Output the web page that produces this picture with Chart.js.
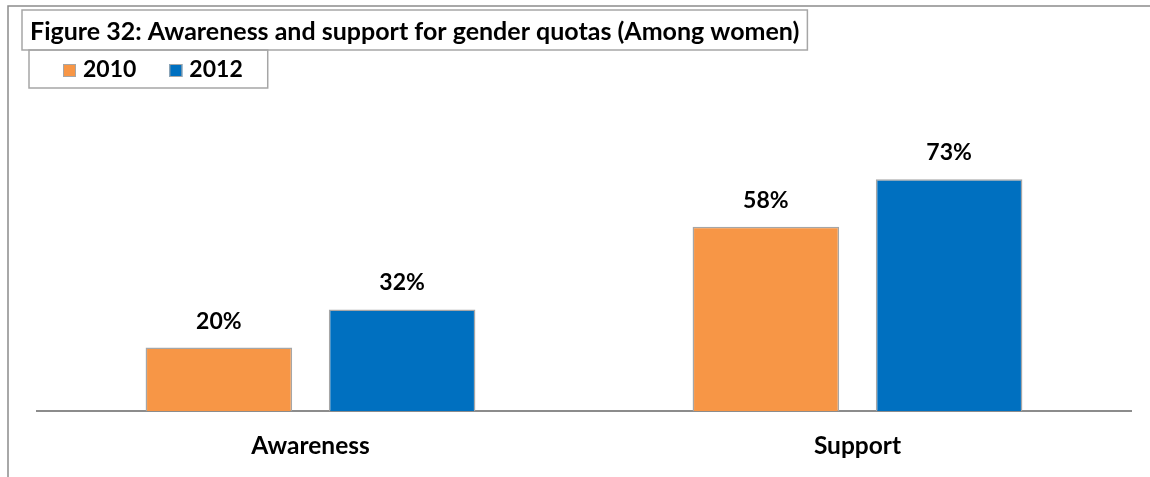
<!DOCTYPE html>
<html>
<head>
<meta charset="utf-8">
<script src="https://cdn.jsdelivr.net/npm/chart.js@4.4.1/dist/chart.umd.min.js"></script>
<style>
  html, body { margin: 0; padding: 0; background: #fff; }
</style>
</head>
<body>
<canvas id="chart" width="1150" height="477"></canvas>
<script>
const chartTitle = "Figure 32: Awareness and support for gender quotas (Among women)";
const categories = ["Awareness", "Support"];
const years = ["2010", "2012"];
const values2010 = [20, 58];
const values2012 = [32, 73];

const FONT = "Lato, 'Open Sans', sans-serif";
const orange = "#f79646";
const blue = "#0070c0";
const edgeGrey = "#a6a6a6";

// frame, boxed title and boxed legend in the top-left corner
const header = {
  id: "header",
  afterDraw(chart) {
    const ctx = chart.ctx;
    ctx.save();

    ctx.strokeStyle = "#8c8c8c";
    ctx.lineWidth = 1.5;
    ctx.beginPath();
    ctx.moveTo(8, chart.height);
    ctx.lineTo(8, 6);
    ctx.lineTo(chart.width, 6);
    ctx.stroke();

    ctx.font = "bold 25px " + FONT;
    const tw = ctx.measureText(chartTitle).width;
    ctx.strokeStyle = edgeGrey;
    ctx.lineWidth = 1.5;
    ctx.strokeRect(22, 10, tw + 16, 40);
    ctx.fillStyle = "#000";
    ctx.textBaseline = "alphabetic";
    ctx.fillText(chartTitle, 30, 40);

    ctx.font = "bold 23px " + FONT;
    let x = 63;
    chart.data.datasets.forEach((ds) => {
      ctx.fillStyle = ds.backgroundColor;
      ctx.fillRect(x, 64, 13, 13);
      ctx.strokeStyle = edgeGrey;
      ctx.lineWidth = 1;
      ctx.strokeRect(x + 0.5, 64.5, 12, 12);
      ctx.fillStyle = "#000";
      ctx.fillText(ds.label, x + 20, 77);
      x += 20 + ctx.measureText(ds.label).width + 33;
    });
    ctx.strokeStyle = edgeGrey;
    ctx.lineWidth = 1.5;
    ctx.strokeRect(29, 50, x - 33 + 25 - 29, 38);

    ctx.restore();
  }
};

// percentage above each bar
const valueLabels = {
  id: "valueLabels",
  afterDatasetsDraw(chart) {
    const ctx = chart.ctx;
    ctx.save();
    ctx.font = "bold 23px " + FONT;
    ctx.fillStyle = "#000";
    ctx.textAlign = "center";
    ctx.textBaseline = "alphabetic";
    chart.data.datasets.forEach((ds, i) => {
      chart.getDatasetMeta(i).data.forEach((bar, j) => {
        ctx.fillText(ds.data[j] + "%", bar.x, bar.y - 19);
      });
    });
    ctx.restore();
  }
};

new Chart(document.getElementById("chart"), {
  type: "bar",
  plugins: [header, valueLabels],
  data: {
    labels: categories,
    datasets: [
      {
        label: years[0],
        data: values2010,
        backgroundColor: orange,
        borderColor: edgeGrey,
        borderWidth: 1.5,
      },
      {
        label: years[1],
        data: values2012,
        backgroundColor: blue,
        borderColor: edgeGrey,
        borderWidth: 1.5,
      },
    ],
  },
  options: {
    responsive: false,
    animation: false,
    devicePixelRatio: 1,
    layout: {
      padding: { left: 37, right: 19, top: 157, bottom: 18 },
    },
    datasets: {
      bar: {
        categoryPercentage: 0.67,
        barPercentage: 0.8,
      },
    },
    plugins: {
      legend: { display: false },
      title: { display: false },
      tooltip: { enabled: false },
    },
    scales: {
      x: {
        grid: { display: false, drawTicks: false },
        border: { color: "#8c8c8c", width: 2 },
        ticks: {
          color: "#000",
          padding: 20,
          font: { family: FONT, size: 24.5, weight: "bold" },
        },
        // keep the axis line at a fixed height above the bottom edge
        afterFit: (scale) => {
          scale.height = 48;
        },
      },
      y: {
        display: false,
        min: 0,
        max: 80,
      },
    },
  },
});
</script>
</body>
</html>
